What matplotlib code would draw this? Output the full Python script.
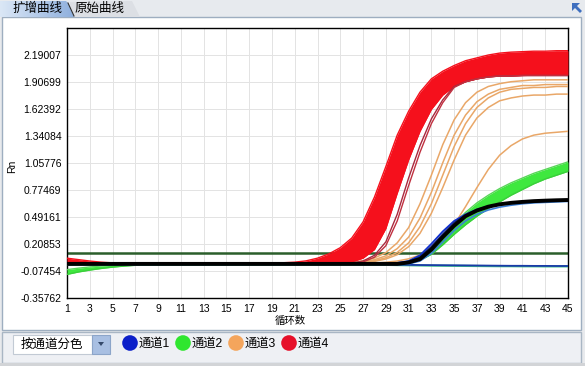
"""
扩增曲线 (qPCR amplification plot) redrawn as a static PNG.
"""

import numpy as np
import matplotlib
matplotlib.use("Agg")
import matplotlib.pyplot as plt
from matplotlib.patches import Rectangle, Polygon, Circle
from matplotlib.colors import LinearSegmentedColormap

# CJK glyphs are missing from Liberation Sans, so keep Noto CJK as the fallback
FONTS = ["Liberation Sans", "Noto Sans CJK SC"]
plt.rcParams["font.family"] = FONTS

W, H = 585, 366

# ---- data ---------------------------------------------------------------
cycles = np.arange(1, 46)

y_ticks = [-0.35762, -0.07454, 0.20853, 0.49161, 0.77469,
           1.05776, 1.34084, 1.62392, 1.90699, 2.19007]
y_tick_labels = ["-0.35762", "-0.07454", "0.20853", "0.49161", "0.77469",
                 "1.05776", "1.34084", "1.62392", "1.90699", "2.19007"]
y_top = 2.47315
x_ticks = list(range(1, 46, 2))

threshold = 0.117

# channel 4 (red) – drawn as a band between the earliest and latest wells
red_hi = [0.060, 0.045, 0.030, 0.018, 0.011, 0.008, 0.006, 0.005, 0.005, 0.005,
          0.005, 0.005, 0.005, 0.005, 0.005, 0.005, 0.006, 0.007, 0.009, 0.012,
          0.018, 0.032, 0.060, 0.105, 0.17, 0.27, 0.44, 0.70, 1.02, 1.35,
          1.60, 1.80, 1.94, 2.02, 2.08, 2.13, 2.16, 2.19, 2.21, 2.22,
          2.225, 2.23, 2.23, 2.235, 2.235]
red_lo = [0.0, 0.0, 0.0, 0.0, 0.0, 0.0, 0.0, 0.0, 0.0, 0.0,
          0.0, 0.0, 0.0, 0.0, 0.0, 0.0, 0.0, 0.0, 0.0, 0.0,
          0.0, 0.0, 0.0, 0.0, 0.005, 0.02, 0.06, 0.15, 0.37, 0.74,
          1.09, 1.39, 1.62, 1.77, 1.86, 1.91, 1.94, 1.96, 1.97, 1.97,
          1.975, 1.98, 1.98, 1.98, 1.98]
red_late_1 = [0.0, 0.0, 0.0, 0.0, 0.0, 0.0, 0.0, 0.0, 0.0, 0.0,
              0.0, 0.0, 0.0, 0.0, 0.0, 0.0, 0.0, 0.0, 0.0, 0.0,
              0.0, 0.0, 0.0, 0.0, 0.0, 0.01, 0.03, 0.09, 0.23, 0.52,
              0.90, 1.24, 1.52, 1.72, 1.86, 1.91, 1.94, 1.96, 1.97, 1.97,
              1.975, 1.975, 1.975, 1.975, 1.975]
red_late_2 = [0.0, 0.0, 0.0, 0.0, 0.0, 0.0, 0.0, 0.0, 0.0, 0.0,
              0.0, 0.0, 0.0, 0.0, 0.0, 0.0, 0.0, 0.0, 0.0, 0.0,
              0.0, 0.0, 0.0, 0.0, 0.0, 0.005, 0.02, 0.07, 0.19, 0.45,
              0.82, 1.17, 1.47, 1.69, 1.85, 1.91, 1.94, 1.96, 1.97, 1.97,
              1.975, 1.975, 1.975, 1.975, 1.975]

# channel 3 (orange) – individual wells
orange_1 = [0.0, 0.0, 0.0, 0.0, 0.0, 0.0, 0.0, 0.0, 0.0, 0.0,
            0.0, 0.0, 0.0, 0.0, 0.0, 0.0, 0.0, 0.0, 0.0, 0.0,
            0.0, 0.0, 0.0, 0.004, 0.009, 0.017, 0.032, 0.062, 0.118, 0.22,
            0.38, 0.63, 0.93, 1.25, 1.51, 1.69, 1.80, 1.86, 1.89, 1.91,
            1.92, 1.93, 1.93, 1.93, 1.93]
orange_2 = [0.0, 0.0, 0.0, 0.0, 0.0, 0.0, 0.0, 0.0, 0.0, 0.0,
            0.0, 0.0, 0.0, 0.0, 0.0, 0.0, 0.0, 0.0, 0.0, 0.0,
            0.0, 0.0, 0.0, 0.0, 0.0, 0.012, 0.023, 0.044, 0.084, 0.16,
            0.28, 0.48, 0.75, 1.06, 1.35, 1.56, 1.70, 1.78, 1.83, 1.85,
            1.87, 1.87, 1.88, 1.88, 1.88]
orange_3 = [0.0, 0.0, 0.0, 0.0, 0.0, 0.0, 0.0, 0.0, 0.0, 0.0,
            0.0, 0.0, 0.0, 0.0, 0.0, 0.0, 0.0, 0.0, 0.0, 0.0,
            0.0, 0.0, 0.0, 0.0, 0.0, 0.009, 0.017, 0.033, 0.064, 0.12,
            0.22, 0.39, 0.63, 0.93, 1.23, 1.47, 1.64, 1.74, 1.80, 1.83,
            1.84, 1.85, 1.85, 1.86, 1.86]
orange_4 = [0.0, 0.0, 0.0, 0.0, 0.0, 0.0, 0.0, 0.0, 0.0, 0.0,
            0.0, 0.0, 0.0, 0.0, 0.0, 0.0, 0.0, 0.0, 0.0, 0.0,
            0.0, 0.0, 0.0, 0.0, 0.0, 0.007, 0.014, 0.026, 0.051, 0.096,
            0.18, 0.32, 0.53, 0.80, 1.09, 1.35, 1.53, 1.64, 1.71, 1.74,
            1.76, 1.77, 1.77, 1.78, 1.78]
orange_5 = [0.0, 0.0, 0.0, 0.0, 0.0, 0.0, 0.0, 0.0, 0.0, 0.0,
            0.0, 0.0, 0.0, 0.0, 0.0, 0.0, 0.0, 0.0, 0.0, 0.0,
            0.0, 0.0, 0.0, 0.0, 0.0, 0.0, 0.0, 0.009, 0.017, 0.030,
            0.053, 0.092, 0.16, 0.26, 0.41, 0.60, 0.80, 0.99, 1.14, 1.24,
            1.31, 1.35, 1.37, 1.38, 1.39]

# channel 2 (green) – band plus one flat negative well
green_hi = [-0.06, -0.045, -0.032, -0.022, -0.014, -0.008, -0.004, -0.002, 0.0, 0.0,
            0.0, 0.0, 0.0, 0.0, 0.0, 0.0, 0.0, 0.0, 0.0, 0.0,
            0.0, 0.0, 0.0, 0.0, 0.0, 0.0, 0.0, 0.0, 0.0, 0.0,
            0.03, 0.08, 0.17, 0.29, 0.42, 0.54, 0.64, 0.72, 0.79, 0.85,
            0.90, 0.95, 0.99, 1.03, 1.07]
green_lo = [-0.11, -0.085, -0.065, -0.048, -0.034, -0.023, -0.015, -0.009, -0.005, -0.003,
            -0.002, -0.002, -0.002, -0.002, -0.002, -0.002, -0.002, -0.002, -0.002, -0.002,
            -0.002, -0.002, -0.002, -0.002, -0.002, -0.002, -0.002, -0.002, -0.002, -0.002,
            0.0, 0.04, 0.10, 0.20, 0.31, 0.41, 0.50, 0.58, 0.65, 0.72,
            0.78, 0.84, 0.89, 0.93, 0.97]
green_flat = [-0.01, -0.01, -0.01, -0.01, -0.01, -0.01, -0.01, -0.01, -0.01, -0.01,
              -0.01, -0.01, -0.01, -0.01, -0.01, -0.01, -0.01, -0.01, -0.01, -0.01,
              -0.01, -0.01, -0.01, -0.01, -0.01, -0.01, -0.01, -0.01, -0.01, -0.012,
              -0.014, -0.016, -0.018, -0.019, -0.020, -0.021, -0.022, -0.023, -0.024, -0.024,
              -0.025, -0.025, -0.026, -0.026, -0.026]

# channel 1 (blue)
blue_1 = [0.0, 0.0, 0.0, 0.0, 0.0, 0.0, 0.0, 0.0, 0.0, 0.0,
          0.0, 0.0, 0.0, 0.0, 0.0, 0.0, 0.0, 0.0, 0.0, 0.0,
          0.0, 0.0, 0.0, 0.0, 0.0, 0.0, 0.0, 0.0, 0.0, 0.01,
          0.03, 0.09, 0.21, 0.34, 0.45, 0.52, 0.57, 0.605, 0.625, 0.64,
          0.65, 0.655, 0.66, 0.664, 0.667]
blue_2 = [0.0, 0.0, 0.0, 0.0, 0.0, 0.0, 0.0, 0.0, 0.0, 0.0,
          0.0, 0.0, 0.0, 0.0, 0.0, 0.0, 0.0, 0.0, 0.0, 0.0,
          0.0, 0.0, 0.0, 0.0, 0.0, 0.0, 0.0, 0.0, 0.0, 0.0,
          0.02, 0.07, 0.18, 0.31, 0.43, 0.51, 0.565, 0.60, 0.62, 0.635,
          0.645, 0.652, 0.657, 0.66, 0.663]
blue_3 = [0.0, 0.0, 0.0, 0.0, 0.0, 0.0, 0.0, 0.0, 0.0, 0.0,
          0.0, 0.0, 0.0, 0.0, 0.0, 0.0, 0.0, 0.0, 0.0, 0.0,
          0.0, 0.0, 0.0, 0.0, 0.0, 0.0, 0.0, 0.0, 0.0, 0.0,
          0.0, 0.03, 0.11, 0.23, 0.35, 0.45, 0.52, 0.565, 0.595, 0.615,
          0.63, 0.64, 0.645, 0.65, 0.655]
blue_flat = [-0.005, -0.005, -0.005, -0.005, -0.005, -0.005, -0.005, -0.005, -0.005, -0.005,
             -0.005, -0.005, -0.005, -0.005, -0.005, -0.005, -0.005, -0.005, -0.005, -0.005,
             -0.005, -0.005, -0.005, -0.005, -0.005, -0.005, -0.005, -0.005, -0.005, -0.008,
             -0.010, -0.012, -0.013, -0.014, -0.015, -0.016, -0.017, -0.018, -0.019, -0.020,
             -0.020, -0.021, -0.021, -0.022, -0.022]

black_1 = [0.0, 0.0, 0.0, 0.0, 0.0, 0.0, 0.0, 0.0, 0.0, 0.0,
           0.0, 0.0, 0.0, 0.0, 0.0, 0.0, 0.0, 0.0, 0.0, 0.0,
           0.0, 0.0, 0.0, 0.0, 0.0, 0.0, 0.0, 0.0, 0.0, 0.0,
           0.015, 0.05, 0.15, 0.28, 0.40, 0.50, 0.56, 0.60, 0.625, 0.64,
           0.65, 0.658, 0.663, 0.667, 0.67]

legend_names = ["通道1", "通道2", "通道3", "通道4"]
legend_colors = ["#0b1fc9", "#2fe62f", "#f4a55c", "#e6102a"]


def draw_frame(bg):
    """Window chrome: tabs, white panel, bottom toolbar."""
    bg.add_patch(Rectangle((0, 0), W, 17, facecolor="#e7eaee", edgecolor="none", zorder=1))

    # inactive tab first, then the active one overlaps it
    bg.add_patch(Polygon([(70, 17), (70, 2), (132, 1), (140, 17)], closed=True,
                         facecolor="#dcdfe4", edgecolor="none", zorder=1.5))

    # active tab with a light-blue gradient (image must sit above the strip)
    tab = Polygon([(0, 17), (0, 1), (66, 1), (68, 3), (74, 17)], closed=True,
                  facecolor="none", edgecolor="none")
    bg.add_patch(tab)
    cmap = LinearSegmentedColormap.from_list("tab", ["#dbe7f6", "#8fb0dd"])
    grad = np.linspace(0, 1, 100).reshape(1, -1)
    im = bg.imshow(grad, extent=[0, 74, 17, 1], cmap=cmap, aspect="auto", zorder=2)
    im.set_clip_path(tab)
    bg.plot([68, 74], [3, 16], color="#303030", lw=0.8, zorder=3)
    bg.text(12, 9, "扩增曲线", fontsize=9, va="center", ha="left", zorder=3)
    bg.text(75, 9, "原始曲线", fontsize=9, va="center", ha="left", zorder=3)

    # small arrow icon, top right
    bg.add_patch(Polygon([(572, 3), (580, 3), (577, 6), (582, 11), (580, 13),
                          (575, 8), (572, 11)], closed=True,
                         facecolor="#3f6fbf", edgecolor="none", zorder=3))

    bg.add_patch(Rectangle((2, 17), 579, 313, facecolor="white", edgecolor="#9eaec0", lw=1))

    # toolbar
    bg.add_patch(Rectangle((2, 332), 579, 31, facecolor="#eef0f4", edgecolor="#a9b6c4", lw=1))
    bg.add_patch(Rectangle((0, 363), W, 3, facecolor="#d2d4d7", edgecolor="none"))
    bg.add_patch(Rectangle((13, 335), 79, 19, facecolor="white", edgecolor="#c2cad4", lw=0.8))
    bg.add_patch(Rectangle((92, 335), 18, 19, facecolor="#a8bfe2", edgecolor="#8ca5c9", lw=0.8))
    bg.add_patch(Polygon([(98, 342), (104, 342), (101, 346)], closed=True,
                         facecolor="#34496a", edgecolor="none"))
    bg.text(21, 344.5, "按通道分色", fontsize=9, va="center", ha="left")

    for i, (name, col) in enumerate(zip(legend_names, legend_colors)):
        cx = 130 + i * 53
        bg.add_patch(Circle((cx, 343), 7.8, facecolor=col, edgecolor="none"))
        bg.text(cx + 8.5, 344, name, fontsize=8.8, va="center", ha="left")


def draw_curves(ax):
    x = cycles
    ax.axhline(threshold, color="#2b5e2b", lw=1.8, zorder=2)

    for ys in (orange_1, orange_2, orange_3, orange_4, orange_5):
        ax.plot(x, ys, color="#e9a768", lw=1.1, zorder=3)

    ax.fill_between(x, green_lo, green_hi, color="#3fe83f", lw=0, zorder=3)
    ax.plot(x, green_hi, color="#59d659", lw=1.0, zorder=3)
    ax.plot(x, green_lo, color="#3bcf3b", lw=1.0, zorder=3)
    ax.plot(x, green_flat, color="#3fbf8a", lw=1.6, zorder=3)

    ax.plot(x, blue_flat, color="#1a3aa8", lw=1.3, zorder=4)
    ax.plot(x, blue_3, color="#3b7fd6", lw=1.2, zorder=4)
    ax.plot(x, blue_1, color="#1030d0", lw=1.3, zorder=4)
    ax.plot(x, blue_2, color="#101c6a", lw=1.3, zorder=4)

    ax.fill_between(x, red_lo, red_hi, color="#f5101c", lw=0, zorder=5)
    ax.plot(x, red_hi, color="#f5101c", lw=1.0, zorder=5)
    ax.plot(x, red_lo, color="#f5101c", lw=1.0, zorder=5)
    ax.plot(x, red_late_1, color="#a8283e", lw=1.0, zorder=5)
    ax.plot(x, red_late_2, color="#c0303f", lw=1.0, zorder=5)

    # black well sits on top of everything along the baseline
    ax.plot(x, black_1, color="black", lw=2.8, zorder=6, solid_capstyle="butt")


def main():
    fig = plt.figure(figsize=(W / 100, H / 100), dpi=100, facecolor="#e8eaed")

    bg = fig.add_axes([0, 0, 1, 1], zorder=0)
    draw_frame(bg)
    bg.set_xlim(0, W)
    bg.set_ylim(H, 0)
    bg.axis("off")

    ax = fig.add_axes([67 / W, 68 / H, 501 / W, 270 / H], zorder=1)
    ax.set_facecolor("white")
    draw_curves(ax)

    ax.set_xlim(1, 45)
    ax.set_ylim(y_ticks[0], y_top)
    ax.set_xticks(x_ticks)
    ax.set_yticks(y_ticks)
    ax.set_yticklabels(y_tick_labels)
    ax.tick_params(length=0, pad=4, labelsize=7.5)
    ax.grid(color="#e3e3e3", lw=0.7)
    ax.set_axisbelow(True)
    for s in ax.spines.values():
        s.set_color("black")
        s.set_linewidth(1.0)

    fig.text(12 / W, 1 - 166 / H, "Rn", rotation=90, fontsize=7.5, ha="center", va="center")
    fig.text(290 / W, 1 - 321 / H, "循环数", fontsize=7.5, ha="center", va="center")

    fig.savefig("out.png", dpi=100, facecolor=fig.get_facecolor())
    plt.close(fig)


if __name__ == "__main__":
    main()
